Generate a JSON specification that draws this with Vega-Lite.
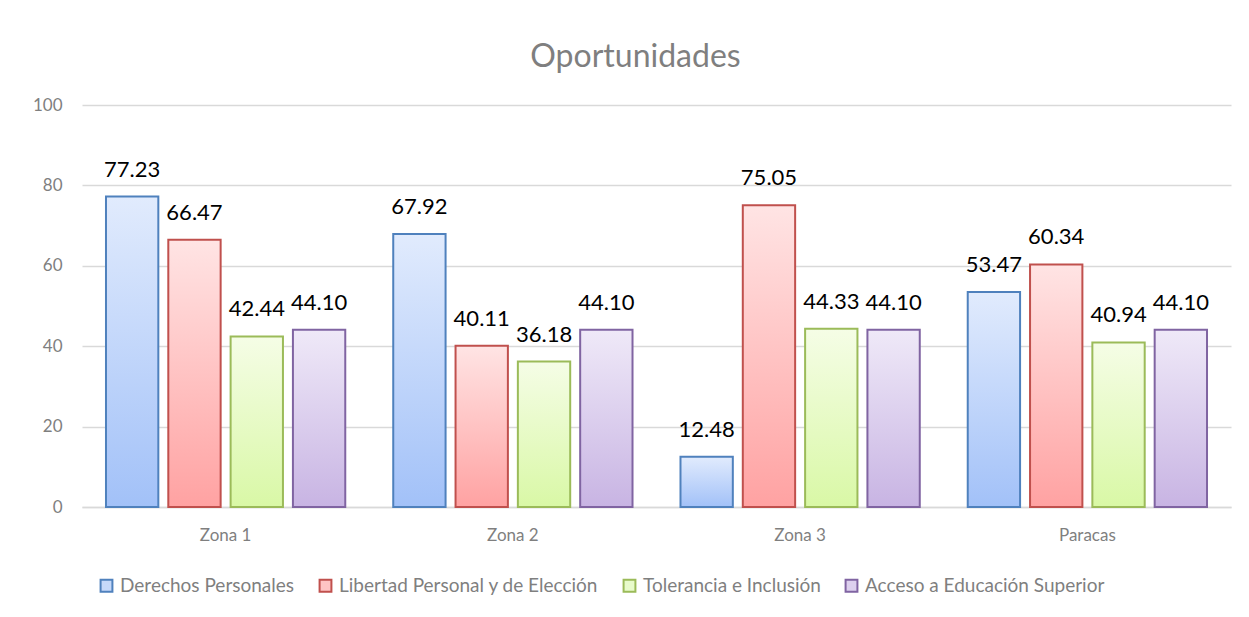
{
  "$schema": "https://vega.github.io/schema/vega-lite/v6.json",
  "width": 1149,
  "height": 402,
  "autosize": {"type": "none"},
  "padding": {"left": 82, "top": 105, "right": 18, "bottom": 110},
  "background": "white",
  "config": {
    "view": {"stroke": null},
    "font": "Lato"
  },
  "title": {
    "text": "Oportunidades",
    "font": "Lato",
    "fontSize": 32,
    "fontWeight": "normal",
    "color": "#7f7f7f",
    "anchor": "middle",
    "dx": -21,
    "baseline": "alphabetic",
    "offset": -3
  },
  "data": {
    "values": [
      {"zona": "Zona 1", "serie": "Derechos Personales", "valor": 77.23},
      {"zona": "Zona 1", "serie": "Libertad Personal y de Elección", "valor": 66.47},
      {"zona": "Zona 1", "serie": "Tolerancia e Inclusión", "valor": 42.44},
      {"zona": "Zona 1", "serie": "Acceso a Educación Superior", "valor": 44.10},
      {"zona": "Zona 2", "serie": "Derechos Personales", "valor": 67.92},
      {"zona": "Zona 2", "serie": "Libertad Personal y de Elección", "valor": 40.11},
      {"zona": "Zona 2", "serie": "Tolerancia e Inclusión", "valor": 36.18},
      {"zona": "Zona 2", "serie": "Acceso a Educación Superior", "valor": 44.10},
      {"zona": "Zona 3", "serie": "Derechos Personales", "valor": 12.48},
      {"zona": "Zona 3", "serie": "Libertad Personal y de Elección", "valor": 75.05},
      {"zona": "Zona 3", "serie": "Tolerancia e Inclusión", "valor": 44.33},
      {"zona": "Zona 3", "serie": "Acceso a Educación Superior", "valor": 44.10},
      {"zona": "Paracas", "serie": "Derechos Personales", "valor": 53.47},
      {"zona": "Paracas", "serie": "Libertad Personal y de Elección", "valor": 60.34},
      {"zona": "Paracas", "serie": "Tolerancia e Inclusión", "valor": 40.94},
      {"zona": "Paracas", "serie": "Acceso a Educación Superior", "valor": 44.10}
    ]
  },
  "encoding": {
    "x": {
      "field": "zona",
      "type": "nominal",
      "sort": ["Zona 1", "Zona 2", "Zona 3", "Paracas"],
      "scale": {"paddingInner": 0.167, "paddingOuter": 0.0835},
      "axis": {
        "title": null,
        "labelAngle": 0,
        "labelFont": "Lato",
        "labelFontSize": 17,
        "labelColor": "#7f7f7f",
        "labelPadding": 20,
        "ticks": false,
        "domainColor": "#d9d9d9",
        "domainWidth": 1.5
      }
    },
    "xOffset": {
      "field": "serie",
      "type": "nominal",
      "sort": ["Derechos Personales", "Libertad Personal y de Elección", "Tolerancia e Inclusión", "Acceso a Educación Superior"],
      "scale": {"paddingInner": 0.16, "paddingOuter": 0}
    },
    "y": {
      "field": "valor",
      "type": "quantitative",
      "scale": {"domain": [0, 100]},
      "axis": {
        "title": null,
        "values": [0, 20, 40, 60, 80, 100],
        "labelFont": "Lato",
        "labelFontSize": 17,
        "labelColor": "#7f7f7f",
        "labelPadding": 20,
        "ticks": false,
        "domain": false,
        "gridColor": "#d9d9d9",
        "gridWidth": 1.5
      }
    }
  },
  "layer": [
    {
      "transform": [{"filter": "datum.serie === 'Derechos Personales'"}],
      "mark": {"type": "bar", "strokeWidth": 2, "stroke": "#4f81bd",
        "fill": {"gradient": "linear", "x1": 0, "y1": 0, "x2": 0, "y2": 1, "stops": [{"offset": 0, "color": "#e1ebfd"}, {"offset": 1, "color": "#a2c1f8"}]}}
    },
    {
      "transform": [{"filter": "datum.serie === 'Libertad Personal y de Elección'"}],
      "mark": {"type": "bar", "strokeWidth": 2, "stroke": "#c0504d",
        "fill": {"gradient": "linear", "x1": 0, "y1": 0, "x2": 0, "y2": 1, "stops": [{"offset": 0, "color": "#ffe4e4"}, {"offset": 1, "color": "#ffa2a2"}]}}
    },
    {
      "transform": [{"filter": "datum.serie === 'Tolerancia e Inclusión'"}],
      "mark": {"type": "bar", "strokeWidth": 2, "stroke": "#9bbb59",
        "fill": {"gradient": "linear", "x1": 0, "y1": 0, "x2": 0, "y2": 1, "stops": [{"offset": 0, "color": "#f5fde6"}, {"offset": 1, "color": "#d9f8a6"}]}}
    },
    {
      "transform": [{"filter": "datum.serie === 'Acceso a Educación Superior'"}],
      "mark": {"type": "bar", "strokeWidth": 2, "stroke": "#8064a2",
        "fill": {"gradient": "linear", "x1": 0, "y1": 0, "x2": 0, "y2": 1, "stops": [{"offset": 0, "color": "#efe9f8"}, {"offset": 1, "color": "#c8b4e3"}]}}
    },
    {
      "mark": {"type": "square", "size": 0, "strokeWidth": 0, "filled": true, "opacity": 1},
      "encoding": {
        "fill": {
          "field": "serie",
          "type": "nominal",
          "scale": {
            "domain": ["Derechos Personales", "Libertad Personal y de Elección", "Tolerancia e Inclusión", "Acceso a Educación Superior"],
            "range": ["#c6d9fa", "#ffc4c4", "#e8fbcb", "#ddd0ee"]
          },
          "legend": {
            "title": null,
            "orient": "none",
            "direction": "horizontal",
            "columns": 4,
            "legendX": 15,
            "legendY": 471,
            "padding": 0,
            "symbolType": "square",
            "symbolSize": 140,
            "symbolStrokeWidth": 2,
            "symbolOpacity": 1,
            "labelFont": "Lato",
            "labelFontSize": 19,
            "labelColor": "#7f7f7f",
            "labelLimit": 400,
            "labelOffset": 4,
            "columnPadding": 20
          }
        },
        "stroke": {
          "field": "serie",
          "type": "nominal",
          "scale": {
            "domain": ["Derechos Personales", "Libertad Personal y de Elección", "Tolerancia e Inclusión", "Acceso a Educación Superior"],
            "range": ["#4f81bd", "#c0504d", "#9bbb59", "#8064a2"]
          }
        }
      }
    },
    {
      "mark": {"type": "text", "font": "Lato", "fontSize": 22, "color": "#000000", "baseline": "middle", "dy": -27},
      "encoding": {
        "text": {"field": "valor", "type": "quantitative", "format": ".2f"}
      }
    }
  ]
}
